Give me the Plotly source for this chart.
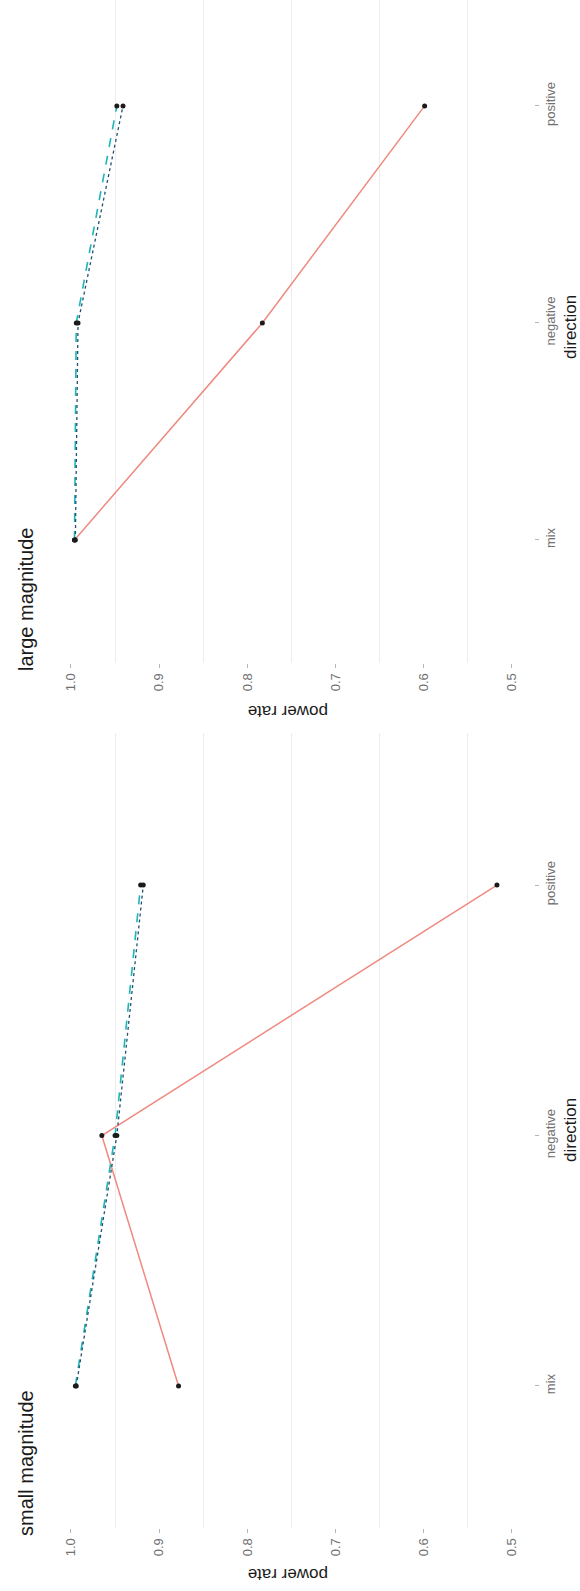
import plotly.graph_objects as go

W, H = 580, 1591

# categories on the direction axis
directions = ["mix", "negative", "positive"]

# power rate per direction, small-magnitude panel
small_method1 = [0.878, 0.965, 0.517]
small_method2 = [0.995, 0.950, 0.921]
small_method3 = [0.994, 0.948, 0.918]

# power rate per direction, large-magnitude panel
large_method1 = [0.996, 0.783, 0.599]
large_method2 = [0.996, 0.994, 0.948]
large_method3 = [0.995, 0.992, 0.941]

rate_ticks = [0.5, 0.6, 0.7, 0.8, 0.9, 1.0]
rate_tick_text = ["0.5", "0.6", "0.7", "0.8", "0.9", "1.0"]
rate_minor = [0.55, 0.65, 0.75, 0.85, 0.95]

FONT = "Liberation Sans, Arial, sans-serif"


def px_x(v):
    return v / W


def px_y(v):
    return 1 - v / H


styles = [
    dict(color="#EE8A80", width=1.5, dash="solid"),
    dict(color="#1CB5B8", width=1.6, dash="dash"),
    dict(color="#26506E", width=1.3, dash="dot"),
]

fig = go.Figure()

panels = [
    ("x", "y", [small_method1, small_method2, small_method3]),
    ("x2", "y2", [large_method1, large_method2, large_method3]),
]
for xa, ya, series in panels:
    for i, vals in enumerate(series):
        fig.add_trace(go.Scatter(
            x=vals, y=directions, mode="lines+markers",
            name=f"method {i + 1}",
            line=styles[i],
            marker=dict(color="#1b1b1b", size=5),
            xaxis=xa, yaxis=ya, showlegend=False,
        ))

x_common = dict(
    range=[1.0215, 0.475],
    tickmode="array", tickvals=rate_ticks, ticktext=rate_tick_text,
    tickangle=-90, showgrid=False, zeroline=False, showline=False,
    ticks="outside", ticklen=4, tickcolor="#B5B5B5", tickwidth=1,
    tickfont=dict(family=FONT, size=13, color="#707070"),
    minor=dict(tickmode="array", tickvals=rate_minor, showgrid=True,
               gridcolor="#EDEDED", gridwidth=1, ticks=""),
    domain=[px_x(52), px_x(534)],
)
y_common = dict(
    type="category", categoryorder="array", categoryarray=directions,
    side="right", tickangle=-90, showgrid=False, zeroline=False,
    showline=False, ticks="outside", ticklen=4, tickcolor="#B5B5B5",
    tickwidth=1, tickfont=dict(family=FONT, size=13, color="#707070"),
)

fig.update_layout(
    width=W, height=H,
    margin=dict(l=0, r=0, t=0, b=0),
    paper_bgcolor="white", plot_bgcolor="white",
    xaxis=dict(anchor="y", **x_common),
    yaxis=dict(anchor="x", domain=[px_y(1528), px_y(733)],
               range=[-0.567, 2.607], **y_common),
    xaxis2=dict(anchor="y2", **x_common),
    yaxis2=dict(anchor="x2", domain=[px_y(663), 1.0],
                range=[-0.567, 2.488], **y_common),
)

title_font = dict(family=FONT, size=20, color="#1a1a1a")
axis_font = dict(family=FONT, size=17, color="#1a1a1a")

annotations = [
    dict(text="small magnitude", x=px_x(26), y=px_y(1463), textangle=-90, font=title_font),
    dict(text="large magnitude", x=px_x(26), y=px_y(600), textangle=-90, font=title_font),
    dict(text="power rate", x=px_x(288), y=px_y(1575), textangle=180, font=axis_font),
    dict(text="power rate", x=px_x(288), y=px_y(712), textangle=180, font=axis_font),
    dict(text="direction", x=px_x(570), y=px_y(1130), textangle=-90, font=axis_font),
    dict(text="direction", x=px_x(570), y=px_y(327), textangle=-90, font=axis_font),
]
for a in annotations:
    fig.add_annotation(xref="paper", yref="paper", showarrow=False,
                       xanchor="center", yanchor="middle", **a)

fig.write_html("out.html")
